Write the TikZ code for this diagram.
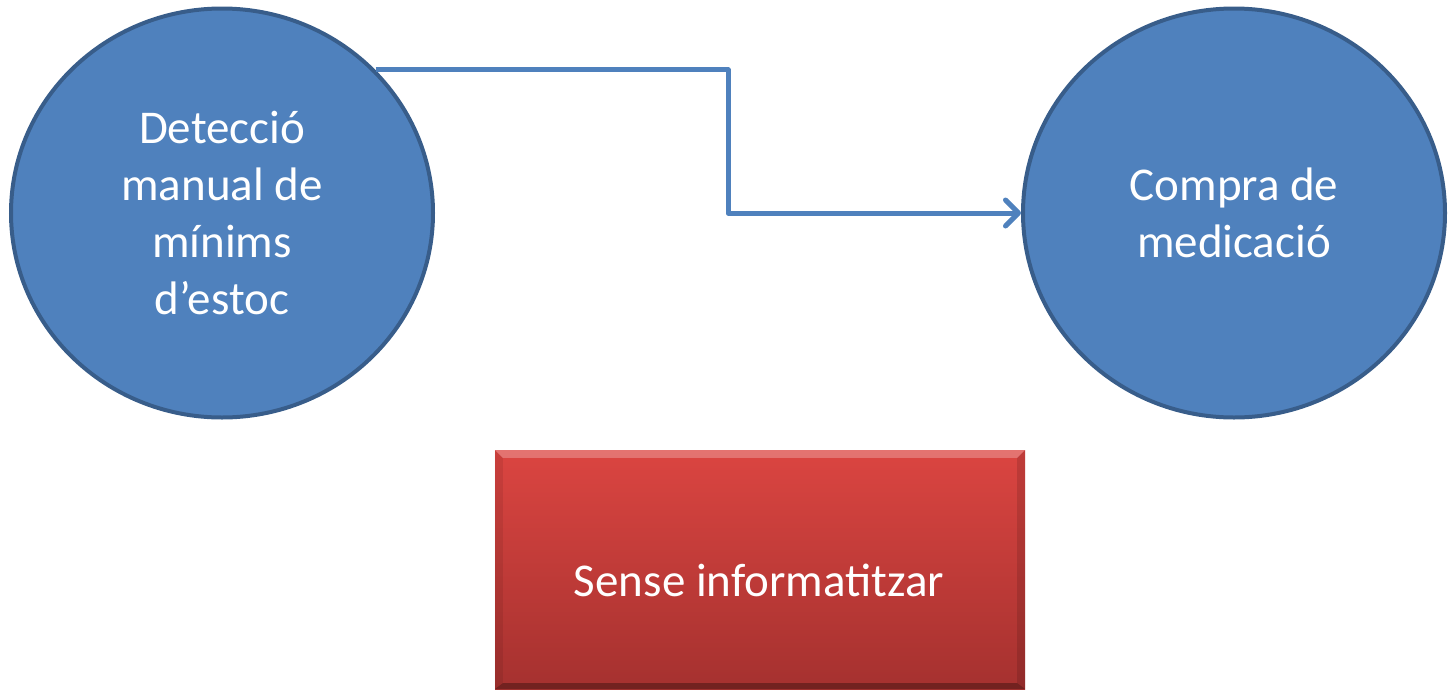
\documentclass[tikz,border=0pt]{standalone}
\usepackage{fontspec}
\setmainfont{Carlito}
\usetikzlibrary{shapes.geometric,arrows.meta}
\definecolor{cfill}{RGB}{79,129,189}
\definecolor{cedge}{RGB}{56,93,138}
\definecolor{rtop}{RGB}{219,69,65}
\definecolor{rbot}{RGB}{165,49,47}
\tikzset{
  bubble/.style={ellipse, fill=cfill, draw=cedge, line width=4pt, inner sep=0pt,
    minimum width=422pt, minimum height=409pt, text=white, align=center,
    font=\fontsize{47}{57}\selectfont},
  conn/.style={draw=cfill, line width=5pt, line join=round,
    -{Straight Barb[length=13pt,width=26pt,line cap=round,line join=round]}},
  redbox/.style={rectangle, inner sep=0pt, minimum width=530pt, minimum height=239pt,
    top color=rtop, bottom color=rbot, text=white,
    font=\fontsize{47}{57}\selectfont}
}
\begin{document}
\begin{tikzpicture}[x=1pt,y=-1pt]
\useasboundingbox (0,0) rectangle (1448,691);
\node[bubble] (left) at (222,213) {Detecció\\manual de\\mínims\\d’estoc};
\node[bubble] (right) at (1234,213) {Compra de\\medicació};
\node[redbox] (box) at (760,569.5) {};
% bevel edges
\fill[white,opacity=0.25] (box.north west) -- (box.north east) -- ([xshift=-8pt,yshift=-8pt]box.north east) -- ([xshift=8pt,yshift=-8pt]box.north west) -- cycle;
\fill[black,opacity=0.08] (box.north west) -- ([xshift=8pt,yshift=-8pt]box.north west) -- ([xshift=8pt,yshift=6pt]box.south west) -- (box.south west) -- cycle;
\fill[black,opacity=0.12] (box.north east) -- ([xshift=-8pt,yshift=-8pt]box.north east) -- ([xshift=-8pt,yshift=6pt]box.south east) -- (box.south east) -- cycle;
\fill[black,opacity=0.3] (box.south west) -- ([xshift=8pt,yshift=6pt]box.south west) -- ([xshift=-8pt,yshift=6pt]box.south east) -- (box.south east) -- cycle;
\node[text=white, font=\fontsize{47}{57}\selectfont, anchor=base] (boxtext) at (759,596) {Sense informatitzar};
\coordinate (bend) at (728,213);
\draw[conn] (left.43) -| (bend) -- (right.west);
\end{tikzpicture}
\end{document}
